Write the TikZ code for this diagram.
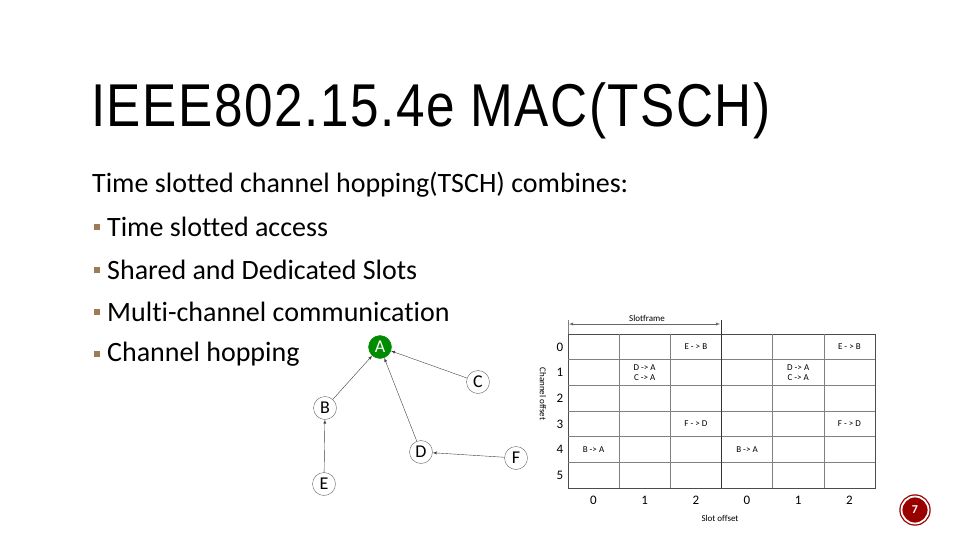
\documentclass[tikz,border=0pt]{standalone}
\usepackage{fontspec}
\setmainfont{Carlito}[Ligatures=NoCommon]
\newfontfamily\titlefont[LetterSpace=3]{Liberation Sans}
\begin{document}
\begin{tikzpicture}[x=1pt,y=-1pt,
  body/.style={anchor=west,inner sep=0pt,font=\fontsize{28}{32}\selectfont},
  bul/.style={fill=brown!70!black!80,minimum size=5.5pt,inner sep=0pt},
  gn/.style={circle,draw=black!60,minimum size=23pt,inner sep=0pt,font=\fontsize{18}{20}\selectfont},
  ga/.style={-latex,black!75,thin},
  sm/.style={font=\fontsize{9}{10}\selectfont,inner sep=0pt,align=center},
  lab/.style={font=\fontsize{13}{14}\selectfont,inner sep=0pt}]
\useasboundingbox (0,0) rectangle (960,540);
\fill[white] (0,0) rectangle (960,540);
\node[anchor=west,inner sep=0pt,font=\titlefont\fontsize{54}{60}\selectfont,yscale=1.12,xscale=0.95] (title) at (91,111) {IEEE802.15.4e MAC(TSCH)};
\node[body] (l0) at (92,185) {Time slotted channel hopping(TSCH) combines:};
\foreach \y/\t [count=\i] in {227/Time slotted access,270/Shared and Dedicated Slots,312/Multi-channel communication,354/Channel hopping}{
  \node[bul] (b\i) at (97,\y) {};
  \node[body] (t\i) at (107,\y) {\t};
}
% graph
\node[gn,fill=green!55!black,draw=green!55!black,text=white] (A) at (380,347) {A};
\node[gn] (B) at (325,408) {B};
\node[gn] (C) at (478,382) {C};
\node[gn] (D) at (421,452) {D};
\node[gn] (E) at (324,484) {E};
\node[gn] (F) at (516,458) {F};
\draw[ga] (B) -- (A);
\draw[ga] (C) -- (A);
\draw[ga] (D) -- (A);
\draw[ga] (E) -- (B);
\draw[ga] (F) -- (D);
% grid
\draw[black!70] (568,334) rectangle (875,488);
\foreach \i in {1,...,5}{\draw[black!50] (568,334+\i*25.67) -- (875,334+\i*25.67);
  \draw[black!50] (568+\i*51.17,334) -- (568+\i*51.17,488);}
\draw[black!80,thick] (721.5,320) -- (721.5,488);
\draw[black!50] (568,320) -- (568,334);
\coordinate (sf1) at (569,324); \coordinate (sf2) at (720,324);
\draw[latex-latex,black!60,thin] (sf1) -- (sf2);
\node[sm] (sft) at (647,318) {Slotframe};
\foreach \r in {0,...,5}{\node[lab] (ch\r) at (560,347+\r*25.67) {\r};}
\foreach \c/\v in {0/0,1/1,2/2,3/0,4/1,5/2}{\node[lab] (so\c) at (593.5+\c*51.17,500) {\v};}
\node[sm] (so) at (720,518) {Slot offset};
\node[sm,rotate=-90] (co) at (543,394) {Channel offset};
\foreach \c/\r/\t in {2/0/{E - > B},5/0/{E - > B},1/1/{D -> A\\C -> A},4/1/{D -> A\\C -> A},2/3/{F - > D},5/3/{F - > D},0/4/{B -> A},3/4/{B -> A}}
  \node[sm] at (593.5+\c*51.17,347+\r*25.67) {\t};
% page number
\node[circle,fill=red!60!black,draw=red!60!black,double=white,double distance=1.8pt,line width=1.3pt,minimum size=27pt,inner sep=0pt,text=white,font=\bfseries\fontsize{12}{13}\selectfont] (pg) at (915,510) {7};
\end{tikzpicture}
\end{document}
